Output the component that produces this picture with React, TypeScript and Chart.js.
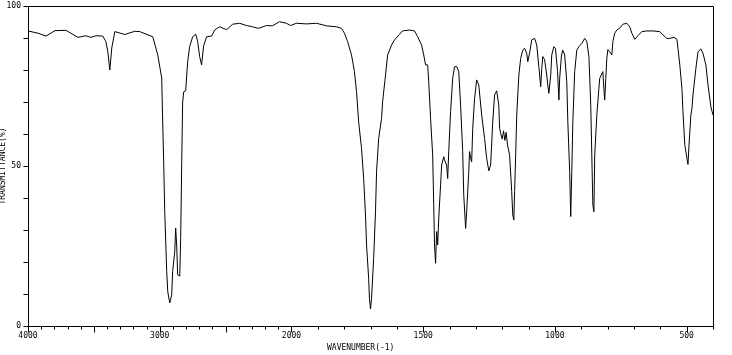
import React, { useEffect, useRef } from "react";
import { Chart, registerables } from "chart.js";

Chart.register(...registerables);

// ---- data (wavenumber in cm-1, transmittance in %) ----
const wavenumbers = [
  4000, 3924, 3864, 3795, 3712, 3621, 3561, 3523, 3485, 3432, 3409, 3394, 3379, 3364, 3341, 3265, 3189, 3152,
  3053, 3015, 2985, 2977, 2970, 2962, 2947, 2939, 2924, 2909, 2902, 2886, 2879, 2871, 2864, 2848, 2841, 2833,
  2826, 2818, 2803, 2788, 2773, 2750, 2727, 2712, 2697, 2682, 2667, 2644, 2606, 2583, 2561, 2545, 2492, 2447,
  2394, 2341, 2295, 2250, 2189, 2144, 2091, 2038, 2008, 1981, 1943, 1905, 1867, 1829, 1810, 1799, 1787, 1772,
  1761, 1753, 1745, 1734, 1726, 1719, 1715, 1707, 1704, 1700, 1696, 1688, 1681, 1677, 1669, 1658, 1654, 1643,
  1635, 1620, 1609, 1590, 1579, 1552, 1533, 1521, 1506, 1498, 1491, 1483, 1479, 1472, 1464, 1460, 1457, 1453,
  1449, 1445, 1441, 1434, 1430, 1422, 1419, 1411, 1407, 1403, 1396, 1388, 1381, 1373, 1365, 1358, 1350, 1346,
  1339, 1335, 1327, 1324, 1320, 1316, 1312, 1305, 1297, 1289, 1278, 1267, 1259, 1251, 1244, 1236, 1229, 1221,
  1213, 1210, 1206, 1200, 1195, 1190, 1185, 1180, 1172, 1164, 1160, 1156, 1153, 1149, 1145, 1137, 1130, 1122,
  1115, 1107, 1103, 1096, 1088, 1077, 1069, 1061, 1054, 1050, 1046, 1039, 1031, 1027, 1023, 1016, 1012, 1004,
  998, 990, 985, 982, 975, 970, 963, 955, 951, 944, 940, 936, 932, 925, 917, 909, 898, 887, 879, 871, 864, 860,
  856, 852, 849, 841, 833, 830, 818, 815, 811, 807, 803, 799, 792, 784, 780, 773, 765, 754, 742, 727, 716, 708,
  697, 685, 670, 651, 628, 602, 590, 575, 564, 548, 537, 533, 526, 518, 514, 507, 499, 495, 491, 484, 480, 476,
  465, 457, 446, 438, 427, 419, 408, 400,
];

const transmittance = [
  92.2, 91.5, 90.6, 92.3, 92.4, 90.2, 90.7, 90.2, 90.7, 90.6, 88.9, 85.7, 80.0, 86.9, 92.0, 91.1, 92.1, 92.0,
  90.4, 84.7, 77.5, 62.8, 51.3, 35.7, 17.0, 10.7, 7.2, 9.7, 17.0, 23.2, 30.6, 25.0, 16.0, 15.6, 27.6, 51.3,
  70.0, 73.2, 73.5, 82.6, 87.3, 90.4, 91.2, 88.9, 84.2, 81.6, 87.5, 90.4, 90.6, 92.5, 93.1, 93.5, 92.6, 94.3,
  94.6, 93.9, 93.5, 93.0, 93.9, 93.8, 95.1, 94.6, 93.9, 94.6, 94.4, 94.6, 93.8, 93.5, 93.0, 91.5, 88.9, 84.7,
  79.5, 73.2, 63.8, 55.5, 46.1, 34.7, 25.3, 14.9, 8.7, 5.3, 8.7, 21.1, 35.7, 48.2, 58.6, 64.9, 70.1, 78.4,
  84.7, 87.8, 89.4, 91.1, 92.2, 92.5, 92.2, 90.4, 87.8, 84.7, 81.6, 81.6, 76.3, 64.9, 53.4, 37.8, 25.3, 19.6,
  29.5, 25.3, 33.6, 44.1, 50.3, 52.9, 51.9, 50.3, 46.1, 54.5, 67.0, 77.4, 81.0, 81.1, 79.5, 69.0, 54.5, 40.9,
  30.5, 35.7, 48.2, 54.5, 52.4, 51.3, 61.8, 71.1, 76.9, 75.3, 65.9, 58.6, 52.4, 48.5, 50.3, 63.8, 72.2, 73.5,
  69.0, 61.8, 60.2, 58.4, 61.0, 58.0, 60.5, 56.6, 53.4, 42.0, 34.7, 33.1, 42.0, 53.4, 65.9, 78.4, 83.6, 86.2,
  86.8, 85.2, 82.6, 85.4, 89.4, 89.9, 87.8, 81.0, 74.8, 80.5, 84.2, 83.2, 78.4, 75.3, 72.7, 78.4, 84.7, 87.3,
  86.8, 79.5, 70.6, 77.4, 84.7, 86.2, 84.7, 76.3, 63.8, 48.2, 34.2, 48.2, 63.8, 79.5, 86.2, 87.3, 88.3, 89.9, 88.9, 84.2, 69.0, 53.4,
  37.8, 35.7, 53.4, 65.9, 74.3, 77.4, 79.5, 75.3, 70.6, 77.4, 83.6, 86.4, 85.7, 84.7, 88.9, 91.5, 92.5, 93.1, 94.3, 94.6, 93.5, 91.5,
  89.6, 90.7, 92.0, 92.2, 92.2, 92.0, 91.0, 89.8, 89.9, 90.2, 89.6, 86.8, 81.6, 74.3, 67.0, 56.6, 52.4, 50.5, 56.6, 65.9, 68.0, 72.2,
  80.5, 85.7, 86.6, 85.2, 81.6, 75.3, 68.5, 65.9,
];

const xTickLabels = [4000, 3000, 2000, 1500, 1000, 500];
const yTickLabels = [0, 50, 100];
const xTitle = "WAVENUMBER(-1)";
const yTitle = "TRANSMITTANCE(%)";

// axis: 4000-2000 compressed by half, 2000-400 full scale
const X_HIGH = 4000;
const X_BREAK = 2000;
const X_LOW = 400;
const MINOR_STEP = 100;
const MAJOR_STEP = 500;

function toPos(w: number): number {
  return w >= X_BREAK ? (X_HIGH - w) / 2 : (X_HIGH - X_BREAK) / 2 + (X_BREAK - w);
}
function fromPos(p: number): number {
  const b = (X_HIGH - X_BREAK) / 2;
  return p <= b ? X_HIGH - p * 2 : X_BREAK - (p - b);
}

const FONT_FAMILY = '"DejaVu Sans Mono", "Liberation Mono", monospace';

const framePlugin = {
  id: "irFrame",
  afterDraw(chart: any) {
    const { ctx, chartArea: a, scales } = chart;
    const xs = scales.x;
    const ys = scales.y;
    ctx.save();
    ctx.strokeStyle = "#000";
    ctx.lineWidth = 1;
    const L = Math.round(a.left) + 0.5;
    const T = Math.round(a.top) + 0.5;
    const R = Math.round(a.right) + 0.5;
    const B = Math.round(a.bottom) + 0.5;
    ctx.beginPath();
    ctx.moveTo(L, T);
    ctx.lineTo(R, T);
    ctx.lineTo(R, B);
    ctx.lineTo(L, B);
    ctx.closePath();
    for (let w = X_HIGH; w >= X_LOW; w -= MINOR_STEP) {
      const x = Math.round(xs.getPixelForValue(toPos(w))) + 0.5;
      const len = w % MAJOR_STEP === 0 ? 6 : 3;
      ctx.moveTo(x, B);
      ctx.lineTo(x, B + len);
    }
    for (let v = 0; v <= 100; v += 10) {
      const y = Math.round(ys.getPixelForValue(v)) + 0.5;
      ctx.moveTo(L - 5, y);
      ctx.lineTo(L, y);
    }
    ctx.stroke();
    ctx.fillStyle = "#000";
    ctx.font = `8px ${FONT_FAMILY}`;
    ctx.textAlign = "left";
    ctx.textBaseline = "middle";
    ctx.fillText(xTitle, a.left + 299, B + 21);
    ctx.restore();
  },
};

export default function App() {
  const canvasRef = useRef<HTMLCanvasElement | null>(null);

  useEffect(() => {
    const canvas = canvasRef.current;
    if (!canvas) return;
    const data = wavenumbers.map((w, i) => ({ x: toPos(w), y: transmittance[i] }));
    const chart = new Chart(canvas, {
      type: "line",
      data: {
        datasets: [
          {
            data,
            borderColor: "#000",
            borderWidth: 1,
            pointRadius: 0,
            tension: 0,
            fill: false,
          },
        ],
      },
      options: {
        animation: false,
        responsive: false,
        devicePixelRatio: 1,
        layout: { padding: { left: 0, right: 19, top: 6, bottom: 0 } },
        plugins: { legend: { display: false }, tooltip: { enabled: false } },
        scales: {
          x: {
            type: "linear",
            min: 0,
            max: toPos(X_LOW),
            border: { display: false },
            grid: { display: false, drawTicks: false },
            afterBuildTicks: (scale: any) => {
              scale.ticks = xTickLabels.map((w) => ({ value: toPos(w) }));
            },
            afterFit: (scale: any) => {
              scale.height = 29;
              scale.paddingLeft = 0;
              scale.paddingRight = 0;
            },
            ticks: {
              autoSkip: false,
              maxRotation: 0,
              padding: 5,
              color: "#000",
              font: { family: FONT_FAMILY, size: 8 },
              callback: (v: any) => String(Math.round(fromPos(Number(v)))),
            },
          },
          y: {
            type: "linear",
            min: 0,
            max: 100,
            border: { display: false },
            grid: { display: false, drawTicks: false },
            afterFit: (scale: any) => {
              scale.width = 28;
              scale.paddingTop = 0;
              scale.paddingBottom = 0;
            },
            title: {
              display: true,
              text: yTitle,
              color: "#000",
              font: { family: FONT_FAMILY, size: 8 },
              padding: { top: -2, bottom: 0 },
            },
            ticks: {
              stepSize: 10,
              padding: 7,
              color: "#000",
              font: { family: FONT_FAMILY, size: 8 },
              callback: (v: any) => (yTickLabels.includes(Number(v)) ? String(v) : ""),
            },
          },
        },
      },
      plugins: [framePlugin],
    });
    return () => chart.destroy();
  }, []);

  return (
    <div style={{ position: "absolute", left: 0, top: 0, width: 732, height: 355, background: "#fff" }}>
      <canvas ref={canvasRef} width={732} height={355} />
    </div>
  );
}
